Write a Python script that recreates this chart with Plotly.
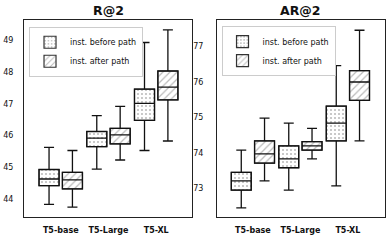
import plotly.graph_objects as go

categories = ["T5-base", "T5-Large", "T5-XL"]
series_names = ["inst. before path", "inst. after path"]

# R@2 box stats per series: [base, large, xl]
r2_before = dict(low=[43.83, 44.94, 45.53], q1=[44.42, 45.65, 46.48], med=[44.63, 45.92, 47.02],
                 q3=[44.93, 46.13, 47.47], high=[45.63, 46.63, 48.94])
r2_after = dict(low=[43.74, 45.23, 45.83], q1=[44.32, 45.74, 47.13], med=[44.60, 46.02, 47.53],
                q3=[44.84, 46.23, 48.04], high=[45.53, 46.92, 49.34])
# AR@2
ar2_before = dict(low=[72.45, 72.95, 73.07], q1=[72.95, 73.58, 74.34], med=[73.21, 73.83, 74.84],
                  q3=[73.45, 74.20, 75.32], high=[74.08, 74.84, 76.46])
ar2_after = dict(low=[73.21, 73.83, 74.34], q1=[73.71, 74.08, 75.48], med=[73.97, 74.20, 76.00],
                 q3=[74.34, 74.32, 76.32], high=[74.98, 74.69, 77.46])

r2_ticks = [44, 45, 46, 47, 48, 49]
ar2_ticks = [73, 74, 75, 76, 77]

offsets = [-0.245, 0.245]
box_w = 0.42
patterns = [".", "/"]
pattern_sizes = [4, 5]
pattern_solidity = [0.22, 0.25]
font = "DejaVu Sans"

fig = go.Figure()

panels = [
    ("x", "y", "legend", [r2_before, r2_after]),
    ("x2", "y2", "legend2", [ar2_before, ar2_after]),
]

for xa, ya, leg, stats in panels:
    for s, st in enumerate(stats):
        pos = [i + offsets[s] for i in range(len(categories))]
        fig.add_trace(go.Bar(
            x=pos, y=[b - a for a, b in zip(st["q1"], st["q3"])], base=st["q1"],
            width=box_w, name=series_names[s], legend=leg, xaxis=xa, yaxis=ya,
            marker=dict(color="white", line=dict(color="#333", width=1.2),
                        pattern=dict(shape=patterns[s], fgcolor="#777", bgcolor="white",
                                     size=pattern_sizes[s], solidity=pattern_solidity[s])),
            hoverinfo="skip"))
        fig.add_trace(go.Box(
            x=pos, q1=st["q1"], median=st["med"], q3=st["q3"],
            lowerfence=st["low"], upperfence=st["high"],
            width=box_w, whiskerwidth=0.5, fillcolor="rgba(0,0,0,0)",
            line=dict(color="#111", width=1.3), showlegend=False,
            xaxis=xa, yaxis=ya))

axis_common = dict(showline=True, mirror=True, linecolor="#222", linewidth=1,
                   showgrid=False, zeroline=False, ticks="", automargin=False)

fig.update_layout(
    width=390, height=241, margin=dict(l=0, r=0, t=0, b=0),
    plot_bgcolor="white", paper_bgcolor="white", barmode="overlay",
    font=dict(family=font, size=8, color="#111"),
    xaxis=dict(domain=[0.0615, 0.4923], range=[-0.77, 2.75], tickvals=[0, 1, 2],
               ticktext=[f"<b>{c}</b>" for c in categories], ticklabelstandoff=5, **axis_common),
    xaxis2=dict(domain=[0.5564, 0.987], range=[-0.756, 2.78], tickvals=[0, 1, 2],
                ticktext=[f"<b>{c}</b>" for c in categories], ticklabelstandoff=5, **axis_common),
    yaxis=dict(domain=[0.0996, 0.917], range=[43.43, 49.65], tickvals=r2_ticks,
               ticklabelstandoff=8, anchor="x", **axis_common),
    yaxis2=dict(domain=[0.0996, 0.917], range=[72.19, 77.75], tickvals=ar2_ticks,
                ticklabelstandoff=11, anchor="x2", **axis_common),
    legend=dict(x=0.0744, y=0.889, xanchor="left", yanchor="top", bgcolor="white",
                bordercolor="#ccc", borderwidth=1, font=dict(size=8), tracegroupgap=0,
                itemwidth=30),
    legend2=dict(x=0.568, y=0.892, xanchor="left", yanchor="top", bgcolor="white",
                 bordercolor="#ccc", borderwidth=1, font=dict(size=8), tracegroupgap=0,
                 itemwidth=30),
    annotations=[
        dict(text="<b>R@2</b>", x=0.277, y=1 - 11 / 241, xref="paper", yref="paper",
             xanchor="center", yanchor="middle",
             showarrow=False, font=dict(size=12.5, family=font)),
        dict(text="<b>AR@2</b>", x=0.7717, y=1 - 11 / 241, xref="paper", yref="paper",
             xanchor="center", yanchor="middle",
             showarrow=False, font=dict(size=12.5, family=font)),
    ],
)

fig.write_html("out.html", post_script="document.body.style.margin='0';",
               config={"displayModeBar": False})
